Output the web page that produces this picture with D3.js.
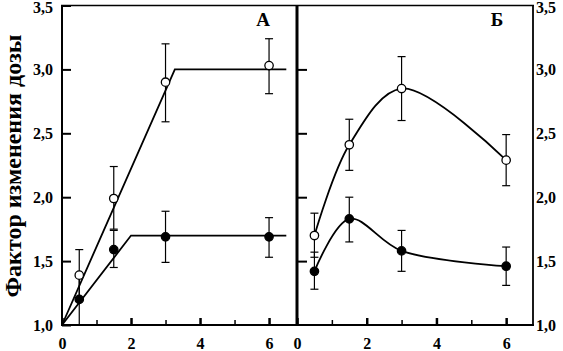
<!DOCTYPE html>
<html>
<head>
<meta charset="utf-8">
<script src="https://cdn.jsdelivr.net/npm/d3@7"></script>
<style>
  body { margin: 0; background: #fff; }
  text { font-family: "Liberation Serif", "DejaVu Serif", serif; font-weight: bold; }
</style>
</head>
<body>
<svg id="chart" width="563" height="351"></svg>
<script>
// --- data ---
const doses = [0.5, 1.5, 3, 6];

// panel A
const openA = [1.39, 1.99, 2.9, 3.03];
const openALo = [1.19, 1.75, 2.59, 2.81];
const openAHi = [1.59, 2.24, 3.2, 3.24];
const closedA = [1.2, 1.59, 1.69, 1.69];
const closedALo = [1.0, 1.45, 1.49, 1.53];
const closedAHi = [1.4, 1.74, 1.89, 1.84];
const fitOpenAX = [0, 3.27, 6.5];
const fitOpenAY = [1, 3, 3];
const fitClosedAX = [0, 2, 6.5];
const fitClosedAY = [1, 1.7, 1.7];

// panel Б
const openB = [1.7, 2.41, 2.85, 2.29];
const openBLo = [1.53, 2.21, 2.6, 2.09];
const openBHi = [1.875, 2.61, 3.1, 2.49];
const closedB = [1.42, 1.83, 1.58, 1.46];
const closedBLo = [1.28, 1.65, 1.42, 1.31];
const closedBHi = [1.57, 2.0, 1.74, 1.61];

const yTicks = [1, 1.5, 2, 2.5, 3, 3.5];
const majorX = [0, 2, 4, 6];
const minorX = [1, 3, 5];

let svg = d3.select('#chart');
let fmt = d => d3.format('.1f')(d).replace('.', ',');

let yTop = 5.5, yBottom = 325;
let y = d3.scaleLinear().domain([1, 3.5]).range([yBottom, yTop]);
let xA = d3.scaleLinear().domain([0, 6.81]).range([62, 297]);
let xB = d3.scaleLinear().domain([0, 6.77]).range([297, 533]);

// x axes with inner ticks
function xAxes(x) {
    let g = svg.append('g').attr('transform', 'translate(0,' + yBottom + ')');
    g.call(d3.axisBottom(x).tickValues(majorX).tickSize(-7).tickPadding(13).tickFormat(d3.format('d')))
        .call(a => a.select('.domain').remove());
    g.selectAll('line').attr('stroke-width', 2.5);
    g.selectAll('text').attr('font-size', '16px').attr('fill', '#000')
        .attr('font-family', '"Liberation Serif", serif');
    let g2 = svg.append('g').attr('transform', 'translate(0,' + yBottom + ')');
    g2.call(d3.axisBottom(x).tickValues(minorX).tickSize(-5).tickFormat(''))
        .call(a => a.select('.domain').remove());
    g2.selectAll('line').attr('stroke-width', 1.5);
}
xAxes(xA);
xAxes(xB);

// left y axis of A
let gl = svg.append('g').attr('transform', 'translate(62,0)');
gl.call(d3.axisLeft(y).tickValues(yTicks).tickSize(-9).tickPadding(9).tickFormat(fmt))
    .call(a => a.select('.domain').remove());
gl.selectAll('line').attr('stroke-width', 2);
gl.selectAll('text').attr('font-size', '16px').attr('font-family', '"Liberation Serif", serif');

// left ticks of Б (on the middle line)
let gm = svg.append('g').attr('transform', 'translate(297,0)');
gm.call(d3.axisLeft(y).tickValues(yTicks.slice(1, 5)).tickSize(-10).tickFormat(''))
    .call(a => a.select('.domain').remove());
gm.selectAll('line').attr('stroke-width', 2);

// right labels of Б
let gr = svg.append('g').attr('transform', 'translate(533,0)');
gr.call(d3.axisRight(y).tickValues(yTicks).tickSize(0).tickPadding(3).tickFormat(fmt))
    .call(a => a.select('.domain').remove());
gr.selectAll('text').attr('font-size', '16px').attr('font-family', '"Liberation Serif", serif');

// keep the top labels inside the picture
svg.selectAll('.tick text').filter(d => d === 3.5).attr('dy', '0.72em').attr('y', -5);

// frame
svg.append('line').attr('x1', 61).attr('x2', 534).attr('y1', yTop).attr('y2', yTop)
    .attr('stroke', 'black').attr('stroke-width', 1.5);
svg.append('line').attr('x1', 61).attr('x2', 534).attr('y1', yBottom).attr('y2', yBottom)
    .attr('stroke', 'black').attr('stroke-width', 2);
svg.append('line').attr('x1', 62).attr('x2', 62).attr('y1', yTop).attr('y2', yBottom + 1)
    .attr('stroke', 'black').attr('stroke-width', 2);
svg.append('line').attr('x1', 297).attr('x2', 297).attr('y1', yTop).attr('y2', yBottom + 1)
    .attr('stroke', 'black').attr('stroke-width', 3);
svg.append('line').attr('x1', 533).attr('x2', 533).attr('y1', yTop).attr('y2', yBottom + 1)
    .attr('stroke', 'black').attr('stroke-width', 1.8);

// error bars
function errBars(x, vals, lo, hi) {
    let g = svg.append('g');
    doses.forEach((d, i) => {
        g.append('line').attr('x1', x(d)).attr('x2', x(d)).attr('y1', y(lo[i])).attr('y2', y(hi[i]))
            .attr('stroke', 'black').attr('stroke-width', 1.2);
        [lo[i], hi[i]].forEach(v => {
            g.append('line').attr('x1', x(d) - 4).attr('x2', x(d) + 4).attr('y1', y(v)).attr('y2', y(v))
                .attr('stroke', 'black').attr('stroke-width', 1.2);
        });
    });
}
errBars(xA, openA, openALo, openAHi);
errBars(xA, closedA, closedALo, closedAHi);
errBars(xB, openB, openBLo, openBHi);
errBars(xB, closedB, closedBLo, closedBHi);

// fit lines
function path(x, xs, ys, curve) {
    let line = d3.line().x(d => x(d[0])).y(d => y(d[1])).curve(curve);
    svg.append('path').attr('d', line(d3.zip(xs, ys)))
        .attr('fill', 'none').attr('stroke', 'black').attr('stroke-width', 1.8);
}
path(xA, fitOpenAX, fitOpenAY, d3.curveLinear);
path(xA, fitClosedAX, fitClosedAY, d3.curveLinear);
path(xB, doses, openB, d3.curveCatmullRom.alpha(0.5));
path(xB, doses, closedB, d3.curveCatmullRom.alpha(0.5));

// markers
function dots(x, vals, fill) {
    svg.append('g').selectAll('circle')
        .data(d3.zip(doses, vals))
        .join('circle')
        .attr('cx', d => x(d[0]))
        .attr('cy', d => y(d[1]))
        .attr('r', 4.2)
        .attr('fill', fill)
        .attr('stroke', 'black')
        .attr('stroke-width', 1.3);
}
dots(xA, openA, 'white');
dots(xA, closedA, 'black');
dots(xB, openB, 'white');
dots(xB, closedB, 'black');

// panel letters
svg.append('text').attr('x', 263).attr('y', 26).attr('text-anchor', 'middle')
    .attr('font-size', '19px').text('А');
svg.append('text').attr('x', 497).attr('y', 26).attr('text-anchor', 'middle')
    .attr('font-size', '19px').text('Б');

// y axis title
svg.append('text')
    .attr('transform', 'translate(13,166) rotate(-90)')
    .attr('text-anchor', 'middle')
    .attr('dominant-baseline', 'central')
    .attr('font-size', '24px')
    .text('Фактор изменения дозы');
</script>
</body>
</html>
